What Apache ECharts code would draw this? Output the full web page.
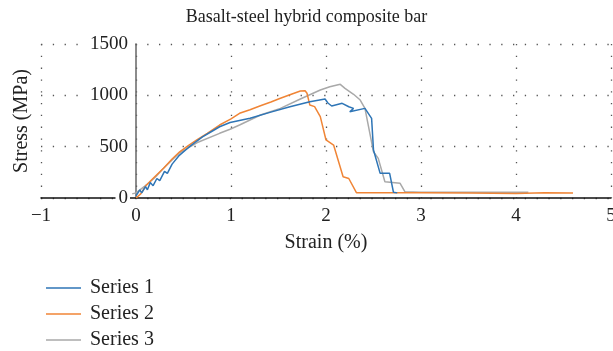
<!DOCTYPE html>
<html>
<head>
<meta charset="utf-8">
<script src="https://cdn.jsdelivr.net/npm/echarts@6/dist/echarts.min.js"></script>
<style>
  html, body { margin: 0; padding: 0; background: #fff; }
  #chart { width: 613px; height: 351px; }
</style>
</head>
<body>
<div id="chart"></div>
<script>
// strain (%) / stress (MPa)
const strain1 = [0, 0.04, 0.06, 0.1, 0.12, 0.15, 0.18, 0.22, 0.25, 0.3, 0.33, 0.38, 0.45, 0.55, 0.64, 0.7, 0.8, 0.88, 0.99, 1.2, 1.41, 1.62, 1.83, 1.99, 2.0, 2.02, 2.06, 2.17, 2.24, 2.29, 2.25, 2.41, 2.48, 2.5, 2.57, 2.67, 2.71, 2.75];
const stress1 = [20, 80, 50, 110, 80, 150, 120, 190, 170, 260, 240, 330, 410, 490, 555, 595, 650, 694, 735, 776, 834, 889, 938, 964, 970, 925, 896, 922, 889, 873, 840, 873, 776, 467, 240, 240, 56, 50];

const strain2 = [0, 0.05, 0.11, 0.2, 0.29, 0.38, 0.46, 0.55, 0.64, 0.75, 0.88, 1.0, 1.09, 1.2, 1.31, 1.42, 1.52, 1.62, 1.73, 1.78, 1.8, 1.83, 1.88, 1.94, 2.0, 2.08, 2.18, 2.24, 2.32, 3.0, 3.5, 4.0, 4.3, 4.6];
const stress2 = [0, 40, 127, 210, 290, 380, 450, 510, 565, 630, 711, 770, 825, 860, 899, 935, 971, 1005, 1042, 1045, 1020, 905, 890, 792, 565, 516, 207, 190, 52, 50, 48, 45, 50, 48];

const strain3 = [-0.04, 0, 0.11, 0.2, 0.29, 0.38, 0.46, 0.64, 0.88, 0.99, 1.09, 1.31, 1.52, 1.73, 1.94, 2.04, 2.15, 2.2, 2.29, 2.36, 2.41, 2.5, 2.55, 2.62, 2.78, 2.83, 3.0, 3.5, 4.13];
const stress3 = [40, 50, 127, 200, 290, 370, 440, 538, 630, 670, 711, 808, 873, 964, 1052, 1084, 1107, 1068, 1010, 954, 873, 450, 386, 159, 143, 61, 55, 55, 55];

const seriesNames = ['Series 1', 'Series 2', 'Series 3'];
const seriesColors = ['#2E75B6', '#F08536', '#A9A9A9'];

const xTicks = { min: -1, max: 5, interval: 1 };
const yTicks = { min: 0, max: 1500, interval: 500 };

const pairs = (xs, ys) => xs.map((x, i) => [x, ys[i]]);
const allData = [pairs(strain1, stress1), pairs(strain2, stress2), pairs(strain3, stress3)];

const font = 'Liberation Serif';
const dotted = { color: '#555', width: 1.3, type: [1.3, 10.5] };

// grid spans x = -1..5, the y axis is drawn at x = 0 (one unit in from the left)
const gridLeft = 41, gridRight = 2;
const yAxisShift = (613 - gridLeft - gridRight) / (xTicks.max - xTicks.min) * (0 - xTicks.min);

const chart = echarts.init(document.getElementById('chart'));
chart.setOption({
  animation: false,
  title: {
    text: 'Basalt-steel hybrid composite bar',
    left: 'center',
    top: 3,
    textStyle: { fontFamily: font, fontSize: 18, fontWeight: 'normal', color: '#222' }
  },
  legend: {
    orient: 'vertical',
    left: 41,
    top: 273,
    height: 90,
    itemWidth: 35,
    itemHeight: 14,
    itemGap: 6,
    icon: 'path://M0,7L36,7L36,8.5L0,8.5Z',
    textStyle: { fontFamily: font, fontSize: 20, color: '#222', padding: [0, 0, 0, 4] },
    data: seriesNames
  },
  grid: { left: gridLeft, right: gridRight, top: 44, bottom: 153, outerBoundsMode: 'none' },
  xAxis: {
    type: 'value',
    min: xTicks.min, max: xTicks.max, interval: xTicks.interval,
    name: 'Strain (%)',
    nameLocation: 'middle',
    nameGap: 35,
    nameTextStyle: { fontFamily: font, fontSize: 20, color: '#222' },
    axisLine: { onZero: true, lineStyle: { color: '#111', width: 1.5 } },
    axisTick: { show: false },
    axisLabel: {
      fontFamily: font, fontSize: 19, color: '#222', margin: 9,
      formatter: v => v < 0 ? '\u2212' + Math.abs(v) : String(v)
    },
    splitLine: { show: true, lineStyle: dotted }
  },
  yAxis: {
    type: 'value',
    min: yTicks.min, max: yTicks.max, interval: yTicks.interval,
    offset: -yAxisShift,
    name: 'Stress (MPa)',
    nameLocation: 'middle',
    nameGap: 104,
    nameTextStyle: { fontFamily: font, fontSize: 20, color: '#222' },
    axisLine: { show: true, onZero: false, lineStyle: { color: '#666', width: 1.5 } },
    axisTick: { show: false },
    axisLabel: {
      fontFamily: font, fontSize: 19, color: '#222', margin: 6,
      backgroundColor: '#fff', padding: [0, 2, 0, 3],
      formatter: v => String(v)
    },
    splitLine: { show: true, lineStyle: dotted }
  },
  series: seriesNames.map((name, i) => ({
    name,
    type: 'line',
    data: allData[i],
    symbol: 'none',
    color: seriesColors[i],
    lineStyle: { width: 1.5 },
    z: 3 - i
  }))
});
</script>
</body>
</html>
